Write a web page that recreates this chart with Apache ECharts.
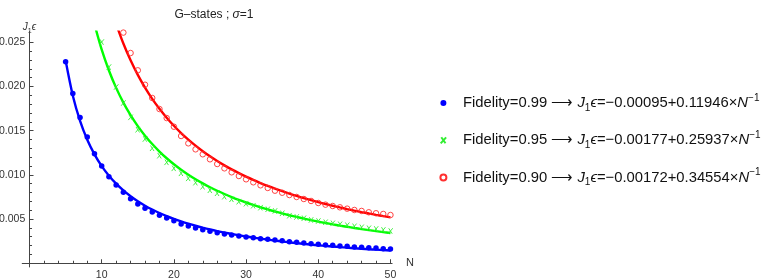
<!DOCTYPE html>
<html>
<head>
<meta charset="utf-8">
<script src="https://cdn.jsdelivr.net/npm/echarts@6/dist/echarts.min.js"></script>
<style>html,body{margin:0;padding:0;background:#fff}#c{width:775px;height:278px}</style>
</head>
<body>
<div id="c"></div>
<script>
// ---- data ----
const nBlue = [5,6,7,8,9,10,11,12,13,14,15,16,17,18,19,20,21,22,23,24,25,26,27,28,29,30,31,32,33,34,35,36,37,38,39,40,41,42,43,44,45,46,47,48,49,50];
const vBlue = [0.0228,0.0192,0.0165,0.0143,0.0124,0.0110,0.0098,0.00886,0.00803,0.00731,0.00671,0.00622,0.00580,0.00543,0.00512,0.00480,0.00444,0.00422,0.00399,0.00380,0.00362,0.00346,0.00331,0.00320,0.00309,0.00297,0.00290,0.00278,0.00271,0.00264,0.00254,0.00244,0.00238,0.00230,0.00222,0.00215,0.00207,0.00204,0.00196,0.00192,0.00184,0.00181,0.00176,0.00173,0.00165,0.00162];
const nGreen = [10,11,12,13,14,15,16,17,18,19,20,21,22,23,24,25,26,27,28,29,30,31,32,33,34,35,36,37,38,39,40,41,42,43,44,45,46,47,48,49,50];
const vGreen = [0.02503,0.0222,0.01994,0.01813,0.01651,0.01511,0.01406,0.01301,0.01217,0.01142,0.01074,0.01018,0.00961,0.00912,0.00866,0.00826,0.00792,0.00753,0.00724,0.00697,0.00674,0.00651,0.00629,0.00611,0.00592,0.00565,0.00538,0.00524,0.00509,0.00490,0.00478,0.00464,0.00452,0.00441,0.00430,0.00418,0.00407,0.00396,0.00388,0.00377,0.00365];
const nRed = [13,14,15,16,17,18,19,20,21,22,23,24,25,26,27,28,29,30,31,32,33,34,35,36,37,38,39,40,41,42,43,44,45,46,47,48,49,50];
const vRed = [0.0261,0.02379,0.02183,0.0202,0.0187,0.01745,0.01643,0.01545,0.0144,0.01357,0.01289,0.01233,0.01176,0.01123,0.01074,0.01029,0.00987,0.0095,0.00916,0.00882,0.00852,0.00821,0.00798,0.00772,0.0075,0.00727,0.00705,0.00682,0.00663,0.00648,0.00633,0.00618,0.00603,0.00592,0.00577,0.00566,0.00558,0.00546];

// fitted curves: values of the fit formulas quoted in the legend, at integer N
const fitNBlue = [5,6,7,8,9,10,11,12,13,14,15,16,17,18,19,20,21,22,23,24,25,26,27,28,29,30,31,32,33,34,35,36,37,38,39,40,41,42,43,44,45,46,47,48,49,50];
const fitBlue = [0.022942,0.01896,0.0161157,0.0139825,0.0123233,0.010996,0.00991,0.009005,0.0082392,0.0075829,0.007014,0.00651625,0.0060771,0.0056867,0.0053374,0.005023,0.0047386,0.00448,0.0042439,0.0040275,0.0038284,0.0036446,0.0034744,0.0033164,0.0031693,0.003032,0.0029035,0.0027831,0.00267,0.0025635,0.0024631,0.0023683,0.0022786,0.0021937,0.0021131,0.0020365,0.0019637,0.0018943,0.0018281,0.001765,0.0017047,0.001647,0.0015917,0.0015388,0.001488,0.0014392];
const fitNGreen = [9,10,11,12,13,14,15,16,17,18,19,20,21,22,23,24,25,26,27,28,29,30,31,32,33,34,35,36,37,38,39,40,41,42,43,44,45,46,47,48,49,50];
const fitGreen = [0.0270489,0.024167,0.0218091,0.0198442,0.0181815,0.0167564,0.0155213,0.0144406,0.0134871,0.0126394,0.0118811,0.0111985,0.010581,0.0100195,0.009507,0.0090371,0.0086048,0.0082058,0.0078363,0.0074932,0.0071738,0.0068757,0.0065968,0.0063353,0.0060897,0.0058585,0.0056406,0.0054347,0.00524,0.0050555,0.0048805,0.0047143,0.0045561,0.0044055,0.0042619,0.0041248,0.0039938,0.0038685,0.0037485,0.0036335,0.0035233,0.0034174];
const fitNRed = [12,13,14,15,16,17,18,19,20,21,22,23,24,25,26,27,28,29,30,31,32,33,34,35,36,37,38,39,40,41,42,43,44,45,46,47,48,49,50];
const fitRed = [0.027075,0.02486,0.0229614,0.021316,0.01987625,0.0186059,0.0174767,0.0164663,0.015557,0.0147343,0.0139864,0.0133035,0.0126775,0.0121016,0.01157,0.0110778,0.0106207,0.0101952,0.009798,0.0094265,0.0090781,0.0087509,0.0084429,0.0081526,0.0078783,0.0076189,0.0073732,0.00714,0.0069185,0.0067078,0.0065071,0.0063158,0.0061332,0.0059587,0.0057917,0.0056319,0.0054788,0.0053318,0.0051908];

const xMajor = [10,20,30,40,50];
const xMinor = [2,4,6,8,12,14,16,18,22,24,26,28,32,34,36,38,42,44,46,48];
const yMajor = [0.005,0.010,0.015,0.020,0.025];
const yMinor = [0.001,0.002,0.003,0.004,0.006,0.007,0.008,0.009,0.011,0.012,0.013,0.014,0.016,0.017,0.018,0.019,0.021,0.022,0.023,0.024];

const titleText = '{a|G–states ; }{i|σ}{a|=1}';
const yName = '{i|J}{s|1}{i|ϵ}';
const legendLabels = {
  b: 'Fidelity=0.99 ⟶ {i|J}{sub|1}{i|ϵ}=−0.00095+0.11946×{i|N}{sup|−1}',
  g: 'Fidelity=0.95 ⟶ {i|J}{sub|1}{i|ϵ}=−0.00177+0.25937×{i|N}{sup|−1}',
  r: 'Fidelity=0.90 ⟶ {i|J}{sub|1}{i|ϵ}=−0.00172+0.34554×{i|N}{sup|−1}'
};

const FF = '"Liberation Sans", Arial, sans-serif';
const AX = '#444';
const zip = (a, b) => a.map((x, i) => [x, b[i]]);

const chart = echarts.init(document.getElementById('c'), null, {renderer: 'canvas'});
const xBase = {type: 'value', min: -1, max: 50.2, splitLine: {show: false}};
const yBase = {type: 'value', min: -0.0004, max: 0.0262, splitLine: {show: false}};

chart.setOption({
  animation: false,
  backgroundColor: '#fff',
  textStyle: {fontFamily: FF},
  title: {
    text: titleText, left: 209, top: 4, textAlign: 'center',
    textStyle: {fontSize: 12, fontWeight: 'normal', color: '#222', fontFamily: FF,
      rich: {a: {fontSize: 12, color: '#222', fontFamily: FF}, i: {fontSize: 12, fontStyle: 'italic', color: '#222', fontFamily: FF}}}
  },
  grid: {left: 22.3, right: 383.1, top: 31.7, bottom: 11.2, containLabel: false, outerBoundsMode: 'none'},
  xAxis: [
    Object.assign({}, xBase, {
      name: 'N', nameLocation: 'end', nameGap: 14,
      nameTextStyle: {fontSize: 11, color: '#333', fontFamily: FF},
      axisLine: {onZero: true, lineStyle: {color: AX, width: 1}},
      axisTick: {inside: true, length: 4, customValues: xMajor, lineStyle: {color: AX}},
      axisLabel: {customValues: xMajor, margin: 3, fontSize: 10.5, color: '#333', fontFamily: FF}
    }),
    Object.assign({}, xBase, {
      position: 'bottom',
      axisLine: {onZero: true, lineStyle: {color: AX, width: 1}},
      axisTick: {inside: true, length: 2.5, customValues: xMinor, lineStyle: {color: AX}},
      axisLabel: {show: false}
    })
  ],
  yAxis: [
    Object.assign({}, yBase, {
      name: yName, nameLocation: 'end', nameGap: -3,
      nameTextStyle: {fontSize: 10, color: '#333', fontFamily: FF, lineHeight: 14,
        rich: {i: {fontSize: 10, fontStyle: 'italic', lineHeight: 14}, s: {fontSize: 7, lineHeight: 9, verticalAlign: 'bottom'}}},
      axisLine: {onZero: true, lineStyle: {color: AX, width: 1}},
      axisTick: {inside: true, length: 4, customValues: yMajor, lineStyle: {color: AX}},
      axisLabel: {customValues: yMajor, margin: -3, fontSize: 10.5, color: '#333', fontFamily: FF,
        formatter: v => v.toFixed(3)}
    }),
    Object.assign({}, yBase, {
      position: 'left',
      axisLine: {onZero: true, lineStyle: {color: AX, width: 1}},
      axisTick: {inside: true, length: 2.5, customValues: yMinor, lineStyle: {color: AX}},
      axisLabel: {show: false}
    })
  ],
  legend: {
    orient: 'vertical', left: 434.4, top: 88, itemWidth: 29, itemHeight: 6, itemGap: 17.3,
    selectedMode: false, data: ['b', 'g', 'r'],
    formatter: name => legendLabels[name],
    textStyle: {fontSize: 14.8, color: '#111', fontFamily: FF, lineHeight: 20,
      rich: {
        i: {fontSize: 14.8, fontStyle: 'italic', lineHeight: 20, color: '#111'},
        sub: {fontSize: 10, lineHeight: 14, verticalAlign: 'bottom', color: '#111'},
        sup: {fontSize: 10, lineHeight: 12, verticalAlign: 'top', color: '#111'}
      }}
  },
  series: [
    {type: 'line', name: 'fb', data: zip(fitNBlue, fitBlue), smooth: 0.3, showSymbol: false, clip: true,
      lineStyle: {color: '#0000ff', width: 2.4}, itemStyle: {color: '#0000ff'}, z: 2},
    {type: 'line', name: 'fg', data: zip(fitNGreen, fitGreen), smooth: 0.3, showSymbol: false, clip: true,
      lineStyle: {color: '#00ff00', width: 2.4}, itemStyle: {color: '#00ff00'}, z: 2},
    {type: 'line', name: 'fr', data: zip(fitNRed, fitRed), smooth: 0.3, showSymbol: false, clip: true,
      lineStyle: {color: '#ff0000', width: 2.4}, itemStyle: {color: '#ff0000'}, z: 2},
    {type: 'scatter', name: 'b', data: zip(nBlue, vBlue), symbol: 'circle', symbolSize: 5.5, clip: true,
      itemStyle: {color: '#0000ff', opacity: 1}, z: 3},
    {type: 'scatter', name: 'g', data: zip(nGreen, vGreen), symbol: 'path://M1,0L8,10M9,0L0,10', symbolSize: [4.5, 5.5], clip: true,
      itemStyle: {color: '#33ee33', borderColor: '#33ee33', borderWidth: 0.9, opacity: 1}, z: 3},
    {type: 'scatter', name: 'r', data: zip(nRed, vRed), symbol: 'circle', symbolSize: 5.5, clip: true,
      itemStyle: {color: 'rgba(0,0,0,0)', borderColor: '#ff3030', borderWidth: 0.9, opacity: 1}, z: 3}
  ]
});
</script>
</body>
</html>
